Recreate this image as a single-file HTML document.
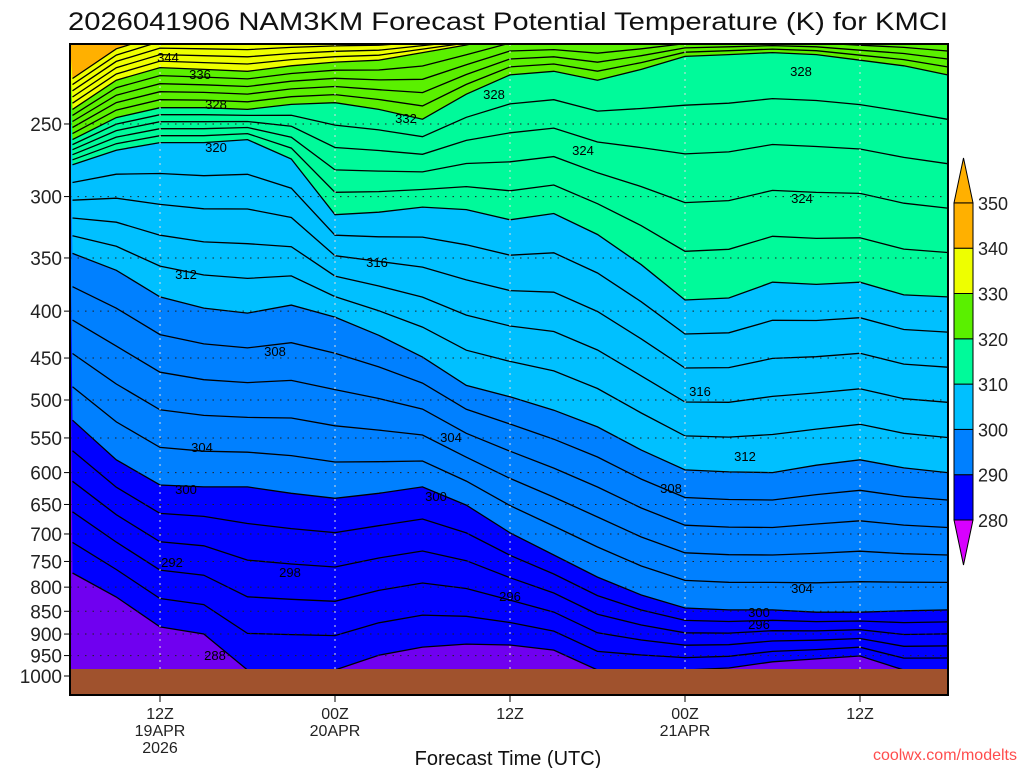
<!DOCTYPE html>
<html><head><meta charset="utf-8"><style>
html,body{margin:0;padding:0;background:#fff;}
svg{display:block;font-family:"Liberation Sans",sans-serif;}
</style></head><body>
<svg id="chart" width="1024" height="768" viewBox="0 0 1024 768">
<defs><clipPath id="plotclip"><rect x="70" y="44" width="878" height="651"/></clipPath></defs>
<rect x="0" y="0" width="1024" height="768" fill="#fff"/>
<text x="508" y="30" text-anchor="middle" font-size="25" textLength="880" lengthAdjust="spacingAndGlyphs" fill="#111">2026041906 NAM3KM Forecast Potential Temperature (K) for KMCI</text>
<g id="plot" clip-path="url(#plotclip)"></g>
<g id="axes"></g>
<g id="cbar"></g>
<text x="508" y="765" text-anchor="middle" font-size="20" fill="#111">Forecast Time (UTC)</text>
<text x="1017" y="760" text-anchor="end" font-size="16" fill="#ff4d4d">coolwx.com/modelts</text>
</svg>
<script>
// forecast hours (from 00Z 19APR)
const hours = [6,9,12,15,18,21,24,27,30,33,36,39,42,45,48,51,54,57,60,63,66];
// isentrope pressures (hPa) at each hour for band boundaries
const theta290 = [772,820,884,900,985,985,985,949,930,923,925,937,985,985,985,980,965,958,951,985,985];
const theta300 = [526,581,619,622,622,632,640,632,622,651,698,738,780,816,843,847,847,852,852,849,847];
const theta310 = [346,361,386,397,402,394,406,425,449,482,496,513,535,567,596,599,600,589,581,593,600];
const theta320 = [277,267,262,262,260,273,314,312,308,310,318,313,330,356,389,387,372,374,372,384,386];
const theta330 = [260,246,240,240,241,238,237,241,247,232,221,219,224,218,211,210,209,210,213,216,221];
const theta340 = [241,224,217,218,219,216,214,213,209,205,200,200,200,200,200,200,200,200,200,200,200];
const theta350 = [223,207,200,200,200,200,200,200,200,200,200,200,200,200,200,200,200,200,200,200,200];
const boundaryThetas = [290,300,310,320,330,340,350];
const bandColors = ["#7000f0","#0000ff","#0080ff","#00c0ff","#00fa9a","#5af000","#eeff00","#ffb000"];
const pressureTicks = [250,300,350,400,450,500,550,600,650,700,750,800,850,900,950,1000];
const timeTicks = [12,24,36,48,60];
const timeLabels = [["12Z","19APR","2026"],["00Z","20APR"],["12Z"],["00Z","21APR"],["12Z"]];
const cbarValues = [280,290,300,310,320,330,340,350];

const NS="http://www.w3.org/2000/svg";
function xS(h){return 72.5+(h-6)*175/12;}
function yS(p){return 676-398.2*Math.log(1000/p);}
function mk(tag,attrs,parent){const e=document.createElementNS(NS,tag);for(const k in attrs)e.setAttribute(k,attrs[k]);parent.appendChild(e);return e;}
const plot=document.getElementById('plot'),axes=document.getElementById('axes'),cbar=document.getElementById('cbar');
const bounds=[theta290,theta300,theta310,theta320,theta330,theta340,theta350];

// base fill (coldest band)
const base=mk('rect',{x:70,y:44,width:878,height:651,fill:bandColors[0]},plot);


function linePts(arr){return hours.map((h,i)=>xS(h).toFixed(1)+','+yS(arr[i]).toFixed(1));}
bounds.forEach((arr,bi)=>{
  const pts=linePts(arr);
  const poly=mk('polygon',{points:pts.join(' ')+' 950,20 68,20',fill:bandColors[bi+1]},plot);
  
  
});
// contour lines every 2K (between band boundaries, log-p interpolation)
for(let bi=0;bi<bounds.length;bi++){
  const lo=bounds[bi],hi=bounds[bi+1];
  const steps = hi? [0,0.2,0.4,0.6,0.8] : [0];
  steps.forEach(f=>{
    const pts=hours.map((h,i)=>{const lp=Math.log(lo[i])*(1-f)+(hi?Math.log(hi[i])*f:0);return xS(h).toFixed(1)+','+yS(Math.exp(lp)).toFixed(1);});
    const pl=mk('polyline',{points:pts.join(' '),fill:'none',stroke:'#000','stroke-width':1.3},plot);
    
    
  });
}
// gridlines
pressureTicks.forEach(p=>{
  const g=mk('line',{x1:70,x2:948,y1:yS(p),y2:yS(p),stroke:'#222','stroke-width':1,'stroke-dasharray':'1.5 6'},plot);
  
  
});
timeTicks.forEach(h=>{
  const g=mk('line',{x1:xS(h),x2:xS(h),y1:44,y2:695,stroke:'#ddd','stroke-width':1,'stroke-dasharray':'2 5'},plot);
  
  
});
// ground
const gr=mk('rect',{x:70,y:669,width:878,height:26,fill:'#a0522d'},plot);


// contour labels
const labels=[[168,57,"344"],[200,74,"336"],[216,104,"328"],[216,147,"320"],[186,274,"312"],[275,351,"308"],[202,447,"304"],[186,489,"300"],[172,562,"292"],[215,655,"288"],[377,262,"316"],[406,118,"332"],[494,94,"328"],[583,150,"324"],[801,71,"328"],[802,198,"324"],[700,391,"316"],[745,456,"312"],[671,488,"308"],[451,437,"304"],[436,496,"300"],[290,572,"298"],[510,596,"296"],[802,588,"304"],[759,612,"300"],[759,624,"296"]];
labels.forEach(l=>{
  const t=mk('text',{x:l[0],y:l[1]+5,'text-anchor':'middle','font-size':13,fill:'#000'},plot);
  t.textContent=l[2];
  
  
});
// frame
const fr=mk('rect',{x:70,y:44,width:878,height:651,fill:'none',stroke:'#000','stroke-width':2},axes);


pressureTicks.forEach(p=>{
  const t=mk('text',{x:62,y:yS(p)+7,'text-anchor':'end','font-size':19,fill:'#222'},axes);
  t.textContent=p;
  
  
  const tk=mk('line',{x1:64,x2:70,y1:yS(p),y2:yS(p),stroke:'#000','stroke-width':1},axes);
  
  
});
timeTicks.forEach((h,i)=>{
  const tk=mk('line',{x1:xS(h),x2:xS(h),y1:695,y2:702,stroke:'#000','stroke-width':1},axes);
  
  
  timeLabels[i].forEach((s,j)=>{
    const t=mk('text',{x:xS(h),y:719+j*17,'text-anchor':'middle','font-size':16,fill:'#222'},axes);
    t.textContent=s;
    
    
  });
});
// colorbar
function cy(v){return 520-(v-280)*45.3/10;}
for(let i=1;i<cbarValues.length;i++){
  const r=mk('rect',{x:954,y:cy(cbarValues[i]),width:19,height:cy(cbarValues[i-1])-cy(cbarValues[i]),fill:bandColors[i],stroke:'#000','stroke-width':1},cbar);
  
  
}
const tu=mk('polygon',{points:`954,${cy(350)} 973,${cy(350)} 963.5,158`,fill:'#ffb000',stroke:'#000','stroke-width':1},cbar);


const td=mk('polygon',{points:`954,${cy(280)} 973,${cy(280)} 963.5,565`,fill:'#d800ff',stroke:'#000','stroke-width':1},cbar);


cbarValues.forEach(v=>{
  const t=mk('text',{x:978,y:cy(v)+7,'font-size':18,fill:'#222'},cbar);
  t.textContent=v;
  
  
});
</script>
</body></html>
